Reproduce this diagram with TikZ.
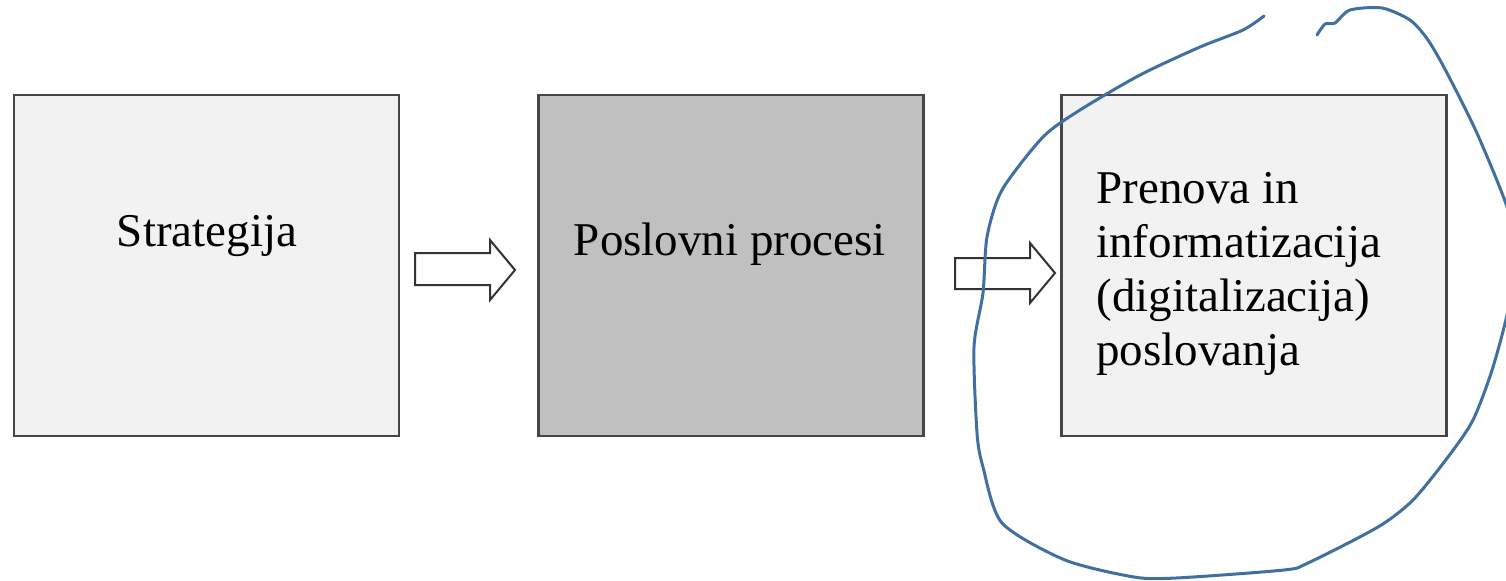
\documentclass[tikz,border=0pt]{standalone}
\usepackage{fontspec}
\setmainfont{Liberation Serif}

\definecolor{boxlight}{RGB}{242,242,242}
\definecolor{boxdark}{RGB}{192,192,192}
\definecolor{boxline}{RGB}{70,70,70}
\definecolor{inkblue}{RGB}{64,112,160}

\tikzset{
    blok/.style={draw=boxline, line width=1.3pt, minimum width=192.5pt, minimum height=170.5pt, inner sep=0pt},
    napis/.style={inner sep=0pt, font=\fontsize{23.5}{27}\selectfont},
    puscica/.style={draw={rgb,255:red,51;green,51;blue,51}, line width=1pt, fill=white, line join=miter},
}

\begin{document}
\begin{tikzpicture}[x=0.5pt,y=0.5pt,yscale=-1,xscale=1]
    \useasboundingbox (0,0) rectangle (1506,580);

    %Shape: Rectangle [strategija]
    \node [blok, fill=boxlight] (strategija) at (206.5,265.5) {};
    %Shape: Rectangle [procesi]
    \node [blok, fill=boxdark] (procesi) at (731,265.5) {};
    %Shape: Rectangle [prenova]
    \node [blok, fill=boxlight] (prenova) at (1254,265.5) {};

    %Shape: Right Arrow [puscica 1]
    \draw [puscica] (415,253) -- (490,253) -- (490,240) -- (515,270) -- (490,300) -- (490,285) -- (415,285) -- cycle ;
    %Shape: Right Arrow [puscica 2]
    \draw [puscica] (955,258) -- (1030,258) -- (1030,243) -- (1055,273) -- (1030,303) -- (1030,289) -- (955,289) -- cycle ;

    % Text Node
    \node [napis, anchor=base] (txtStrategija) at (207,246) {Strategija};
    % Text Node
    \node [napis, anchor=base] (txtProcesi) at (730,255) {Poslovni procesi};
    % Text Node
    \node [napis, anchor=north west, align=left] (txtPrenova) at (1096,172) {Prenova in\\informatizacija\\(digitalizacija)\\poslovanja};

    %Shape: Free hand [obroba]
    \begin{scope}
    \clip (0,0) rectangle (1506,580);
    \draw [inkblue, line width=1.5pt, line cap=round, line join=round] plot [smooth, tension=0.45] coordinates {
        (1264,16) (1243,30) (1200,47) (1140,75) (1080,110) (1043,137) (1002,190) (987,237) (983,293)
        (974,347) (977,433) (983,467) (1002,523) (1065,560) (1134,577) (1176,578) (1284,570) (1308,563)
        (1378,527) (1413,500) (1448,457) (1473,420) (1493,367) (1510,300) (1514,230) (1480,140)
        (1447,73) (1428,40) (1410,20) (1382,8) (1350,10) (1335,23) (1325,24) (1317,35)
    };
    \end{scope}

\end{tikzpicture}
\end{document}
